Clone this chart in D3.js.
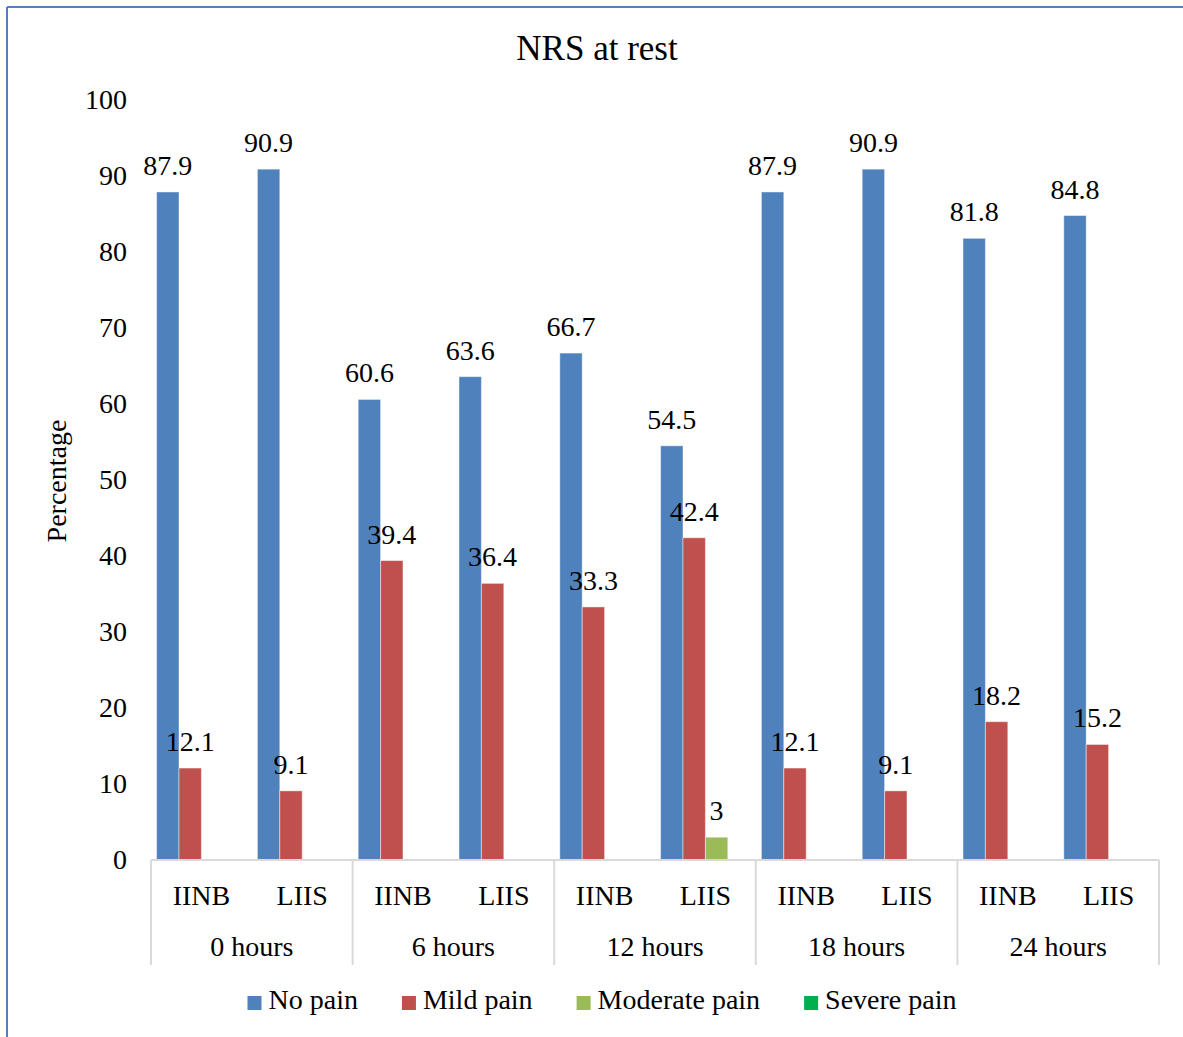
<!DOCTYPE html>
<html>
<head>
<meta charset="utf-8">
<script src="https://cdn.jsdelivr.net/npm/d3@7"></script>
<style>
  html, body { margin: 0; padding: 0; background: #fff; }
  svg text { font-family: "Liberation Serif", "Times New Roman", serif; fill: #000; }
</style>
</head>
<body>
<svg id="chart" width="1183" height="1037"></svg>
<script>
// Time points and the two anaesthesia groups within each
const timePoints = ["0 hours", "6 hours", "12 hours", "18 hours", "24 hours"];
const methods = ["IINB", "LIIS"];

// Percentage of patients per pain category, ordered time point by time point, IINB then LIIS
const noPain       = [87.9, 90.9, 60.6, 63.6, 66.7, 54.5, 87.9, 90.9, 81.8, 84.8];
const mildPain     = [12.1, 9.1, 39.4, 36.4, 33.3, 42.4, 12.1, 9.1, 18.2, 15.2];
const moderatePain = [0, 0, 0, 0, 0, 3, 0, 0, 0, 0];
const severePain   = [0, 0, 0, 0, 0, 0, 0, 0, 0, 0];

const seriesNames = ["No pain", "Mild pain", "Moderate pain", "Severe pain"];
const yTicks = [0, 10, 20, 30, 40, 50, 60, 70, 80, 90, 100];

const seriesValues = [noPain, mildPain, moderatePain, severePain];
const colors = ["#4f81bd", "#c0504d", "#9bbb59", "#00b050"];

// One slot per (time point, method) pair
const slots = [];
timePoints.forEach(t => methods.forEach(m => slots.push({ time: t, method: m, key: t + "|" + m })));

const svg = d3.select("#chart");

// Frame lines along the top and left edge
svg.append("line").attr("x1", 7).attr("y1", 7).attr("x2", 1183).attr("y2", 7)
  .attr("stroke", "#4f81bd").attr("stroke-width", 2);
svg.append("line").attr("x1", 7).attr("y1", 7).attr("x2", 7).attr("y2", 1037)
  .attr("stroke", "#4f81bd").attr("stroke-width", 2);

const plotLeft = 151, plotRight = 1159, plotTop = 100, plotBottom = 860;

const y = d3.scaleLinear().domain([0, 100]).range([plotBottom, plotTop]);
const x = d3.scaleBand().domain(slots.map(s => s.key)).range([plotLeft, plotRight]).padding(0);
const xGroup = d3.scaleBand().domain(timePoints).range([plotLeft, plotRight]).padding(0);

// Bars: four series side by side, with a half-bar gap shared across the slot edges
const barW = x.bandwidth() / 4.5;
const inner = d3.scaleBand().domain(seriesNames)
  .range([barW * 0.25, barW * 0.25 + barW * 4]).padding(0);

const fontSize = 28;

// Title
svg.append("text").attr("x", 597).attr("y", 52)
  .attr("text-anchor", "middle").attr("dominant-baseline", "middle")
  .style("font-size", "35px").text("NRS at rest");

// Y axis labels (no axis line, no gridlines)
const yAxis = d3.axisLeft(y).tickValues(yTicks).tickSize(0).tickPadding(0);
const yG = svg.append("g").attr("transform", "translate(127,0)").call(yAxis);
yG.select(".domain").remove();
yG.selectAll("text").style("font-size", fontSize + "px")
  .style("font-family", '"Liberation Serif", "Times New Roman", serif').attr("fill", "#000");

svg.append("text")
  .attr("transform", "translate(60," + ((plotTop + plotBottom) / 2 + 1) + ") rotate(-90)")
  .attr("text-anchor", "middle").attr("dominant-baseline", "middle")
  .style("font-size", fontSize + "px").text("Percentage");

// Bars
seriesNames.forEach((name, si) => {
  svg.append("g").selectAll("rect")
    .data(slots.map((s, i) => ({ slot: s, v: seriesValues[si][i] })).filter(d => d.v > 0))
    .join("rect")
    .attr("x", d => x(d.slot.key) + inner(name))
    .attr("y", d => y(d.v))
    .attr("width", inner.bandwidth())
    .attr("height", d => y(0) - y(d.v))
    .attr("fill", colors[si])
    .attr("stroke", "rgba(255,255,255,0.45)")
    .attr("stroke-width", 1);
});

// Category axis: baseline and group separators
svg.append("line").attr("x1", plotLeft).attr("x2", plotRight)
  .attr("y1", plotBottom).attr("y2", plotBottom)
  .attr("stroke", "#d9d9d9").attr("stroke-width", 2);
const sepX = timePoints.map(t => xGroup(t)).concat([plotRight]);
svg.append("g").selectAll("line").data(sepX).join("line")
  .attr("x1", d => d).attr("x2", d => d)
  .attr("y1", plotBottom).attr("y2", 965)
  .attr("stroke", "#d9d9d9").attr("stroke-width", 2);

svg.append("g").selectAll("text").data(slots).join("text")
  .attr("x", d => x(d.key) + x.bandwidth() / 2)
  .attr("y", 899)
  .attr("text-anchor", "middle").attr("dominant-baseline", "middle")
  .style("font-size", fontSize + "px").text(d => d.method);

svg.append("g").selectAll("text").data(timePoints).join("text")
  .attr("x", d => xGroup(d) + xGroup.bandwidth() / 2)
  .attr("y", 950)
  .attr("text-anchor", "middle").attr("dominant-baseline", "middle")
  .style("font-size", fontSize + "px").text(d => d);

// Value labels above each non-zero bar, drawn after all bars
seriesNames.forEach((name, si) => {
  svg.append("g").selectAll("text")
    .data(slots.map((s, i) => ({ slot: s, v: seriesValues[si][i] })).filter(d => d.v > 0))
    .join("text")
    .attr("x", d => x(d.slot.key) + inner(name) + inner.bandwidth() / 2)
    .attr("y", d => y(d.v) - 17)
    .attr("text-anchor", "middle")
    .style("font-size", fontSize + "px")
    .text(d => d.v);
});

// Legend
const legend = svg.append("g");
const items = legend.selectAll("g").data(seriesNames).join("g");
items.append("rect").attr("width", 14).attr("height", 14).attr("y", -7)
  .attr("fill", (d, i) => colors[i]);
items.append("text").attr("x", 21).attr("dominant-baseline", "middle")
  .style("font-size", fontSize + "px").text(d => d);
let cx = 0;
const gap = 44;
items.each(function () {
  const w = 21 + d3.select(this).select("text").node().getComputedTextLength();
  d3.select(this).attr("transform", "translate(" + cx + ",0)");
  cx += w + gap;
});
const totalW = cx - gap;
legend.attr("transform", "translate(" + (602 - totalW / 2) + ",1003)");
</script>
</body>
</html>
